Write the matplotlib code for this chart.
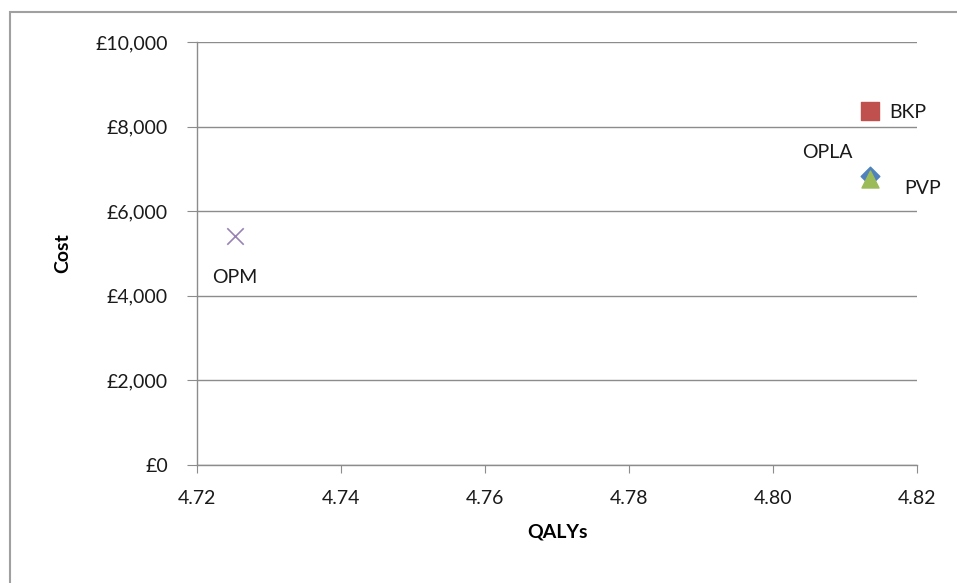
import matplotlib.pyplot as plt
from matplotlib.patches import Rectangle
from matplotlib.ticker import FuncFormatter

# data
names = ["BKP", "OPLA", "PVP", "OPM"]
qalys = [4.8135, 4.8135, 4.8135, 4.7253]
costs = [8370, 6830, 6760, 5415]
markers = ["s", "D", "^", "x"]
sizes = [160, 90, 150, 140]
colors = ["#c0504d", "#4f81bd", "#9bbb59", "#8064a2"]
label_offsets = [(27, -1), (-31, 17), (38, -7), (0, -30)]

plt.rcParams['font.family'] = ['Lato', 'DejaVu Sans']

fig = plt.figure(figsize=(9.57, 5.83), dpi=100)
fig.patches.append(Rectangle((10 / 957, -0.1), 1.0, 1 - 12 / 583 + 0.1,
                             transform=fig.transFigure, fill=False,
                             edgecolor="#a0a0a0", linewidth=1.5))
ax = fig.add_axes([197 / 957, 1 - 465 / 583, 720 / 957, 423 / 583])

for n, x, y, m, sz, c, off in zip(names, qalys, costs, markers, sizes, colors, label_offsets):
    if m == "x":
        ax.scatter(x, y, marker=m, s=sz, color=c, linewidths=1.2, alpha=0.8, zorder=3)
    else:
        ax.scatter(x, y, marker=m, s=sz, color=c, zorder=3)
    ax.annotate(n, (x, y), xytext=off, textcoords="offset points",
                fontsize=14, ha="center", va="center", color="#1a1a1a")

ax.set_xlim(4.72, 4.82)
ax.set_ylim(0, 10000)
ax.set_xticks([4.72, 4.74, 4.76, 4.78, 4.80, 4.82])
ax.set_yticks(range(0, 10001, 2000))
ax.xaxis.set_major_formatter(FuncFormatter(lambda v, p: f"{v:.2f}"))
ax.yaxis.set_major_formatter(FuncFormatter(lambda v, p: f"£{v:,.0f}"))
ax.grid(axis="y", color="#8c8c8c", linewidth=1)
ax.set_axisbelow(True)
for s in ["top", "right"]:
    ax.spines[s].set_visible(False)
for s in ["left", "bottom"]:
    ax.spines[s].set_color("#8c8c8c")
    ax.spines[s].set_linewidth(1)
ax.tick_params(colors="#8c8c8c", length=6, labelcolor="#1a1a1a", labelsize=14)
ax.tick_params(axis="y", length=7, pad=14)
ax.tick_params(axis="x", pad=12)
ax.set_xlabel("QALYs", fontsize=14, fontweight="bold", labelpad=12)
ax.set_ylabel("Cost", fontsize=14, fontweight="bold", labelpad=17)

fig.savefig("out.png", dpi=100)
